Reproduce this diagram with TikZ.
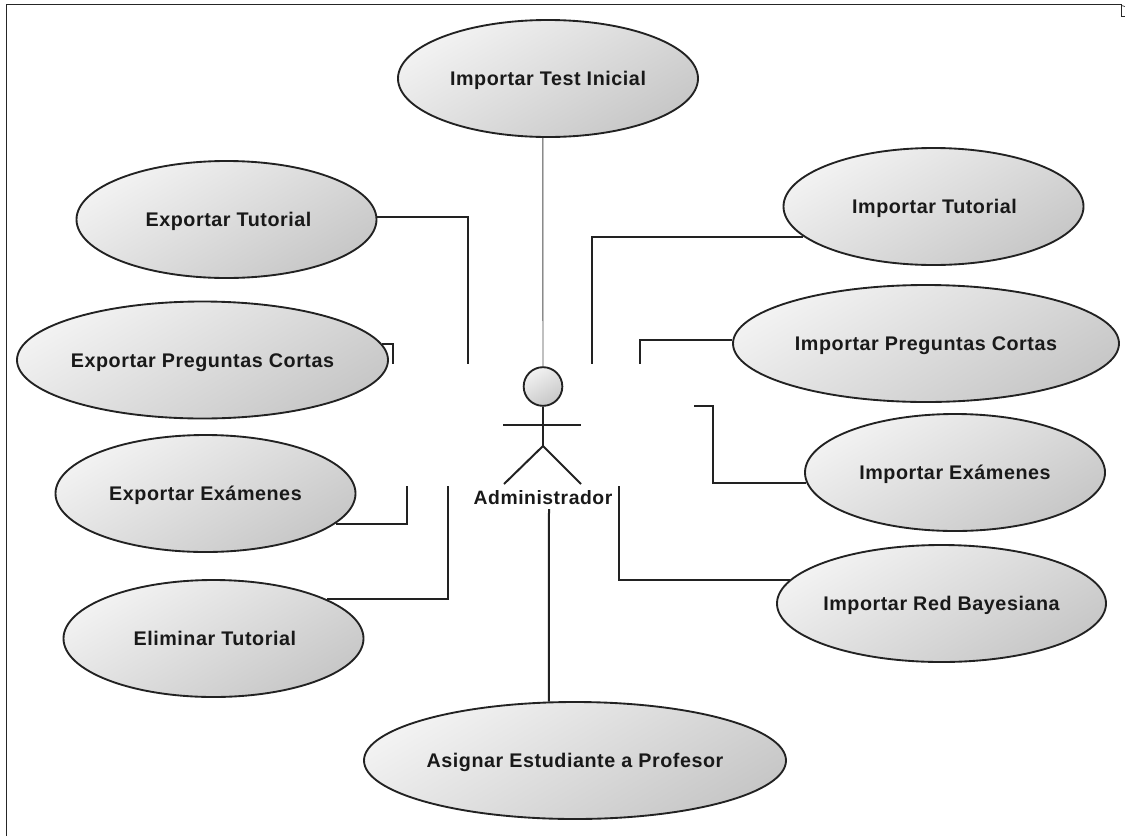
\documentclass[tikz,border=0pt]{standalone}
\usepackage{fontspec}
\setmainfont{Liberation Sans}[LetterSpace=2.8]
\usetikzlibrary{shapes.geometric}
\definecolor{inkc}{HTML}{222222}
\newcommand{\uclabel}[1]{\makebox[0pt]{\fontsize{14.8pt}{18pt}\selectfont #1}}
\tikzset{
  usecase/.style={ellipse,draw=inkc,line width=1.4pt,inner sep=0pt,minimum height=87.75pt,
    top color=white!95!black,bottom color=black!22,shading angle=30,
    font=\bfseries,text=black!90,text height=11.2pt,text depth=0pt},
  conn/.style={draw=inkc,line width=1.5pt},
  thinconn/.style={draw=black!70,line width=0.7pt},
  actorline/.style={draw=inkc,line width=1.5pt},
  framel/.style={draw=black!85,line width=0.8pt}
}
\begin{document}
\begin{tikzpicture}[x=0.75pt,y=-0.75pt]
\useasboundingbox (0,0) rectangle (1125,836);
\coordinate (fa) at (6.5,836);
\coordinate (fb) at (6.5,4.5);
\coordinate (fc) at (1121.5,4.5);
\coordinate (fd) at (1121.5,16.5);
\coordinate (fe) at (1125,16.5);
\coordinate (ff) at (1125,6.5);
\draw[framel] (fa) -- (fb) -- (fc) -- (fd) -- (fe);
\draw[framel,line width=0.5pt] (fc) ++(0,1) -- (ff);

\node[usecase,minimum width=225pt] (ti) at (548,78.5) {\uclabel{Importar Test Inicial}};
\node[usecase,minimum width=225pt] (et) at (226.5,219.5) {\uclabel{\hspace{3pt}Exportar Tutorial}};
\node[usecase,minimum width=278.25pt] (ep) at (202.5,360) {\uclabel{Exportar Preguntas Cortas}};
\node[usecase,minimum width=225pt] (ee) at (205.5,493.5) {\uclabel{Exportar Exámenes}};
\node[usecase,minimum width=225pt] (el) at (213.5,638.5) {\uclabel{\hspace{2pt}Eliminar Tutorial}};
\node[usecase,minimum width=316.5pt] (as) at (575,760.5) {\uclabel{Asignar Estudiante a Profesor}};
\node[usecase,minimum width=225pt] (it) at (933.5,206.5) {\uclabel{\hspace{1.5pt}Importar Tutorial}};
\node[usecase,minimum width=289.5pt] (ip) at (926,343.5) {\uclabel{Importar Preguntas Cortas}};
\node[usecase,minimum width=225pt] (ie) at (955,472.5) {\uclabel{Importar Exámenes}};
\node[usecase,minimum width=246.75pt] (ir) at (941.5,603.5) {\uclabel{Importar Red Bayesiana}};

% actor
\node[circle,draw=inkc,line width=1.4pt,minimum size=29pt,inner sep=0pt,top color=white!95!black,bottom color=black!22,shading angle=30] (head) at (543,386.5) {};
\coordinate (hip) at (543,446);
\coordinate (arml) at (503,425);
\coordinate (armr) at (581,425);
\coordinate (legl) at (504,484);
\coordinate (legr) at (581,484);
\draw[actorline] (head.south) -- (hip);
\draw[actorline] (arml) -- (armr);
\draw[actorline] (legl) -- (hip) -- (legr);
\node[font=\fontsize{14.5pt}{18pt}\selectfont\bfseries,text=black!90,inner sep=0pt] (adm) at (543,498) {Administrador};

% connector ends
\coordinate (c1) at (468,364);
\coordinate (c2) at (393,364);
\coordinate (c3) at (407,486);
\coordinate (c4) at (448,486);
\coordinate (c5) at (592,364);
\coordinate (c6) at (640,364);
\coordinate (c7) at (713,406);
\coordinate (c7b) at (694,406);
\coordinate (c8) at (619,486);
\coordinate (c9) at (549,509);
\coordinate (c10) at (543,367);

\draw[thinconn] (ti.265.1) -- (c10);
\draw[conn] (et.1) -| (c1);
\draw[conn] (ep.5.1) -| (c2);
\draw[conn] (ee.-13.95) -| (c3);
\draw[conn] (el.19.6) -| (c4);
\draw[conn] (it.193.95) -| (c5);
\draw[conn] (ip.179) -| (c6);
\draw[conn] (ie.184.5) -| (c7) -- (c7b);
\draw[conn] (ir.171.1) -| (c8);
\draw[conn] (as.114.1) -- (c9);
\end{tikzpicture}
\end{document}
